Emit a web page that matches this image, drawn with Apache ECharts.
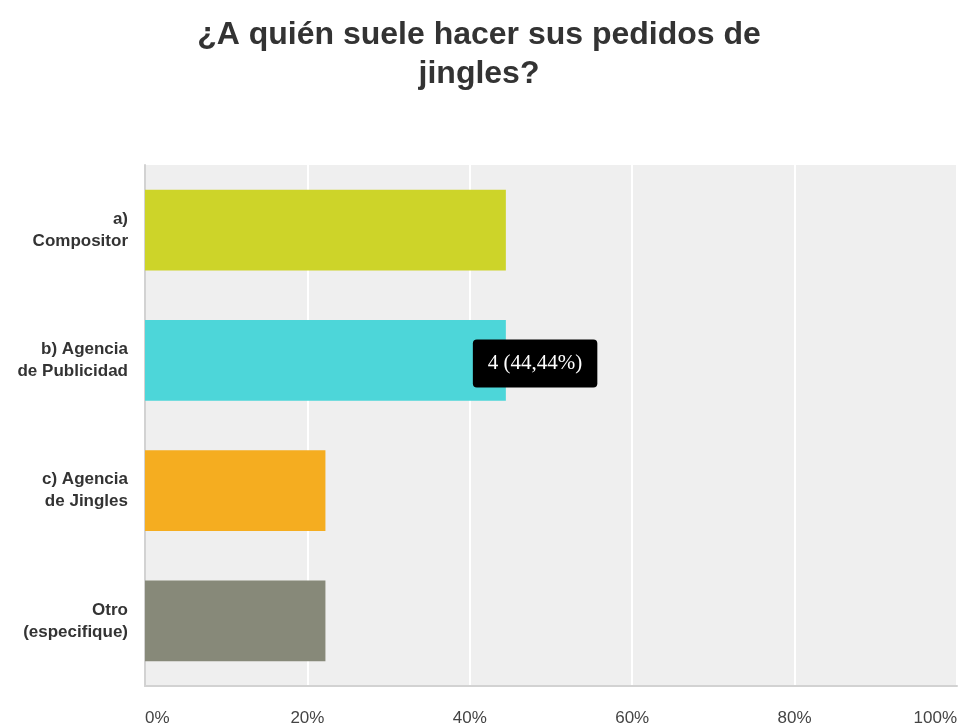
<!DOCTYPE html>
<html>
<head>
<meta charset="utf-8">
<script src="https://cdn.jsdelivr.net/npm/echarts@6/dist/echarts.min.js"></script>
<style>
  html, body { margin: 0; padding: 0; background: #ffffff; }
  #chart { width: 961px; height: 724px; }
</style>
</head>
<body>
<div id="chart"></div>
<script>
// Survey answers
const titleText = '¿A quién suele hacer sus pedidos de\njingles?';
const categories = ['a)\nCompositor', 'b) Agencia\nde Publicidad', 'c) Agencia\nde Jingles', 'Otro\n(especifique)'];
const counts = [4, 4, 2, 2];
const percents = [44.44, 44.44, 22.22, 22.22];
const barColors = ['#cdd429', '#4dd6d9', '#f5ad20', '#878979'];
const tickValues = [0, 20, 40, 60, 80, 100];
const highlighted = 1; // answer whose value box is shown

const chart = echarts.init(document.getElementById('chart'), null, { renderer: 'canvas' });

const barData = percents.map((p, i) => {
  const item = { value: p, itemStyle: { color: barColors[i] } };
  if (i === highlighted) {
    item.label = {
      show: true,
      position: 'right',
      distance: 0,
      offset: [-33, 3],
      formatter: counts[i] + ' (' + p.toFixed(2).replace('.', ',') + '%)',
      color: '#ffffff',
      fontFamily: 'Liberation Serif',
      fontSize: 21,
      backgroundColor: '#000000',
      borderRadius: 4,
      padding: [14, 15, 13, 15]
    };
  }
  return item;
});

chart.setOption({
  animation: false,
  title: {
    text: titleText,
    left: 474,
    top: 11,
    textAlign: 'center',
    textStyle: {
      fontFamily: 'Liberation Sans, Arial',
      fontWeight: 'bold',
      fontSize: 32,
      lineHeight: 39,
      color: '#333333'
    }
  },
  grid: {
    left: 145, right: 4, top: 165, bottom: 38,
    outerBoundsMode: 'none',
    containLabel: false,
    show: true,
    backgroundColor: '#efefef',
    borderWidth: 0
  },
  xAxis: {
    type: 'value',
    min: tickValues[0],
    max: tickValues[tickValues.length - 1],
    interval: 20,
    axisLine: { show: true, lineStyle: { color: '#d2d2d2', width: 2 } },
    axisTick: { show: false },
    splitLine: { show: true, lineStyle: { color: '#ffffff', width: 2 } },
    axisLabel: {
      formatter: v => v + '%',
      margin: 24,
      fontFamily: 'Liberation Sans, Arial',
      fontSize: 17,
      color: '#444444',
      alignMinLabel: 'left',
      alignMaxLabel: 'right'
    }
  },
  yAxis: {
    type: 'category',
    inverse: true,
    data: categories,
    axisLine: { show: true, lineStyle: { color: '#d2d2d2', width: 2 } },
    axisTick: { show: false },
    axisLabel: {
      margin: 17,
      fontFamily: 'Liberation Sans, Arial',
      fontWeight: 'bold',
      fontSize: 17,
      lineHeight: 22,
      color: '#333333',
      align: 'right'
    }
  },
  series: [{
    type: 'bar',
    data: barData,
    barWidth: '62%',
    label: { show: false }
  }]
});
</script>
</body>
</html>
